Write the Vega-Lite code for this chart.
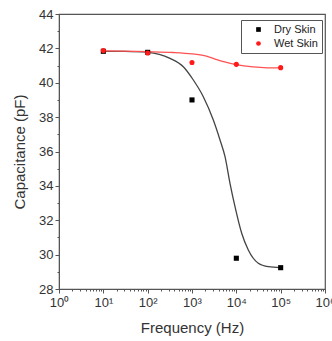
{
  "$schema": "https://vega.github.io/schema/vega-lite/v6.json",
  "autosize": {"type": "none"},
  "padding": {"left": 59, "top": 14, "right": 7, "bottom": 52},
  "width": 266,
  "height": 275,
  "background": "white",
  "config": {
    "font": "Liberation Sans",
    "view": {"stroke": "#555", "strokeWidth": 1.2},
    "axis": {"domainColor": "#555", "tickColor": "#555", "labelColor": "#333", "titleColor": "#333", "grid": false, "labelFont": "Liberation Sans", "titleFont": "Liberation Sans", "titleFontWeight": "normal"}
  },
  "datasets": {
    "points": [
      {"freq": 10, "cap": 41.83, "series": "Dry Skin"},
      {"freq": 100, "cap": 41.77, "series": "Dry Skin"},
      {"freq": 1000, "cap": 39.0, "series": "Dry Skin"},
      {"freq": 10000, "cap": 29.79, "series": "Dry Skin"},
      {"freq": 100000, "cap": 29.24, "series": "Dry Skin"},
      {"freq": 10, "cap": 41.87, "series": "Wet Skin"},
      {"freq": 100, "cap": 41.73, "series": "Wet Skin"},
      {"freq": 1000, "cap": 41.18, "series": "Wet Skin"},
      {"freq": 10000, "cap": 41.07, "series": "Wet Skin"},
      {"freq": 100000, "cap": 40.88, "series": "Wet Skin"}
    ],
    "curves": [
      {"freq": 10, "cap": 41.83, "series": "Dry Skin"},
      {"freq": 30, "cap": 41.82, "series": "Dry Skin"},
      {"freq": 100, "cap": 41.77, "series": "Dry Skin"},
      {"freq": 319, "cap": 41.42, "series": "Dry Skin"},
      {"freq": 637, "cap": 40.93, "series": "Dry Skin"},
      {"freq": 1072, "cap": 40.16, "series": "Dry Skin"},
      {"freq": 1799, "cap": 39.19, "series": "Dry Skin"},
      {"freq": 3027, "cap": 37.83, "series": "Dry Skin"},
      {"freq": 4285, "cap": 36.67, "series": "Dry Skin"},
      {"freq": 5559, "cap": 35.7, "series": "Dry Skin"},
      {"freq": 7194, "cap": 34.15, "series": "Dry Skin"},
      {"freq": 9333, "cap": 32.79, "series": "Dry Skin"},
      {"freq": 13213, "cap": 31.24, "series": "Dry Skin"},
      {"freq": 18621, "cap": 30.27, "series": "Dry Skin"},
      {"freq": 31333, "cap": 29.5, "series": "Dry Skin"},
      {"freq": 52602, "cap": 29.3, "series": "Dry Skin"},
      {"freq": 100000, "cap": 29.24, "series": "Dry Skin"},
      {"freq": 10, "cap": 41.86, "series": "Wet Skin"},
      {"freq": 30, "cap": 41.84, "series": "Wet Skin"},
      {"freq": 100, "cap": 41.81, "series": "Wet Skin"},
      {"freq": 380, "cap": 41.76, "series": "Wet Skin"},
      {"freq": 1000, "cap": 41.68, "series": "Wet Skin"},
      {"freq": 1900, "cap": 41.58, "series": "Wet Skin"},
      {"freq": 3300, "cap": 41.38, "series": "Wet Skin"},
      {"freq": 6000, "cap": 41.18, "series": "Wet Skin"},
      {"freq": 10000, "cap": 41.05, "series": "Wet Skin"},
      {"freq": 24000, "cap": 40.92, "series": "Wet Skin"},
      {"freq": 50000, "cap": 40.87, "series": "Wet Skin"},
      {"freq": 100000, "cap": 40.86, "series": "Wet Skin"}
    ]
  },
  "encoding": {
    "x": {
      "field": "freq", "type": "quantitative",
      "scale": {"type": "log", "domain": [1, 1000000], "nice": false},
      "title": "Frequency (Hz)",
      "axis": {
        "values": [1,2,3,4,5,6,7,8,9,10,20,30,40,50,60,70,80,90,100,200,300,400,500,600,700,800,900,1000,2000,3000,4000,5000,6000,7000,8000,9000,10000,20000,30000,40000,50000,60000,70000,80000,90000,100000,200000,300000,400000,500000,600000,700000,800000,900000,1000000],
        "labelExpr": "abs(log(datum.value)/LN10 - round(log(datum.value)/LN10)) < 0.001 ? '10' + ['⁰','¹','²','³','⁴','⁵','⁶'][round(log(datum.value)/LN10)] : ''",
        "labelOverlap": false,
        "labelFlush": false,
        "labelFontSize": 13,
        "labelPadding": 3,
        "tickSize": {"condition": {"test": "abs(log(datum.value)/LN10 - round(log(datum.value)/LN10)) < 0.001", "value": 4}, "value": 2},
        "titleFontSize": 15,
        "titlePadding": 11
      }
    },
    "y": {
      "field": "cap", "type": "quantitative",
      "scale": {"domain": [28, 44], "nice": false, "zero": false},
      "title": "Capacitance (pF)",
      "axis": {
        "values": [28,29,30,31,32,33,34,35,36,37,38,39,40,41,42,43,44],
        "labelExpr": "datum.value % 2 == 0 ? format(datum.value, 'd') : ''",
        "labelOverlap": false,
        "labelFlush": false,
        "labelFontSize": 13,
        "labelPadding": 2,
        "tickSize": {"condition": {"test": "datum.value % 2 == 0", "value": 4}, "value": 2},
        "titleFontSize": 15,
        "titlePadding": 11
      }
    }
  },
  "layer": [
    {
      "data": {"name": "curves"},
      "transform": [{"filter": "datum.series == 'Dry Skin'"}],
      "mark": {"type": "line", "color": "#444", "strokeWidth": 1.3, "interpolate": "monotone"}
    },
    {
      "data": {"name": "curves"},
      "transform": [{"filter": "datum.series == 'Wet Skin'"}],
      "mark": {"type": "line", "color": "#ff5252", "strokeWidth": 1.3, "interpolate": "monotone"}
    },
    {
      "data": {"name": "points"},
      "mark": {"type": "point", "filled": true, "opacity": 1, "size": 26},
      "encoding": {
        "color": {
          "field": "series", "type": "nominal",
          "scale": {"domain": ["Dry Skin", "Wet Skin"], "range": ["#000000", "#ff1a1a"]},
          "legend": {
            "title": null,
            "orient": "none",
            "legendX": 182,
            "legendY": 6,
            "strokeColor": "#555",
            "fillColor": "white",
            "padding": 4,
            "labelFontSize": 11,
            "labelColor": "#222",
            "symbolSize": 22,
            "symbolOffset": 8,
            "labelOffset": 10,
            "rowPadding": 2
          }
        },
        "shape": {
          "field": "series", "type": "nominal",
          "scale": {"domain": ["Dry Skin", "Wet Skin"], "range": ["square", "circle"]}
        }
      }
    }
  ]
}
